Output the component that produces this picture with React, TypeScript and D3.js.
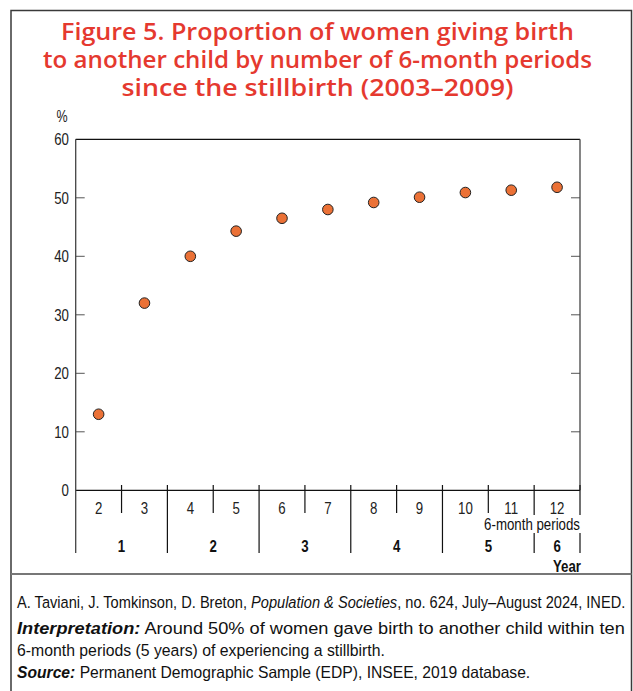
import React, { useLayoutEffect, useRef, useState } from "react";
import * as d3 from "d3";

const periods = [2, 3, 4, 5, 6, 7, 8, 9, 10, 11, 12];
const proportions = [13, 32, 40, 44.3, 46.5, 48, 49.2, 50.1, 50.9, 51.3, 51.8];
const yTicks = [0, 10, 20, 30, 40, 50, 60];
const years = [1, 2, 3, 4, 5, 6];
const titleLines = [
  "Figure 5. Proportion of women giving birth",
  "to another child by number of 6-month periods",
  "since the stillbirth (2003–2009)",
];

const W = 633;
const H = 691;
const left = 75.7;
const right = 580;
const top = 139.3;
const bottom = 490.3;

const sans = "'Liberation Sans', Arial, sans-serif";
const titleFont = "'Open Sans', 'Noto Sans', sans-serif";
const RED = "#e5392f";
const SX = 0.78;

function CText(props: {
  x: number;
  y: number;
  anchor?: "start" | "middle" | "end";
  size: number;
  weight?: number;
  fill?: string;
  sx?: number;
  children: React.ReactNode;
}) {
  const { x, y, anchor = "start", size, weight = 400, fill = "#222", sx = SX, children } = props;
  return (
    <g transform={`translate(${x},${y}) scale(${sx},1)`}>
      <text
        x={0}
        y={0}
        textAnchor={anchor}
        fontFamily={sans}
        fontSize={size}
        fontWeight={weight}
        fill={fill}
      >
        {children}
      </text>
    </g>
  );
}

function FitText(props: {
  x: number;
  y: number;
  width: number;
  size: number;
  anchor?: "start" | "end";
  children: React.ReactNode;
}) {
  const ref = useRef<SVGTextElement>(null);
  const [sx, setSx] = useState(0.82);
  useLayoutEffect(() => {
    if (ref.current) {
      const w = ref.current.getComputedTextLength();
      if (w > 0) setSx(props.width / w);
    }
  }, [props.width]);
  return (
    <g transform={`translate(${props.x},${props.y}) scale(${sx},1)`}>
      <text
        ref={ref}
        x={0}
        y={0}
        textAnchor={props.anchor || "start"}
        fontFamily={sans}
        fontSize={props.size}
        fill="#111"
      >
        {props.children}
      </text>
    </g>
  );
}

export default function App() {
  const x = d3.scaleBand<number>().domain(periods).range([left, right]).padding(0);
  const y = d3.scaleLinear().domain([0, 60]).range([bottom, top]);
  const bw = x.bandwidth();

  const yearOf = (p: number) => Math.floor(p / 2);
  const yearSpan = (yr: number) => {
    const ps = periods.filter((p) => yearOf(p) === yr);
    const x0 = x(ps[0])!;
    const x1 = x(ps[ps.length - 1])! + bw;
    return [x0, x1];
  };

  const shortSeps: number[] = [];
  const longSeps: number[] = [];
  periods.forEach((p, i) => {
    if (i === 0) return;
    const xv = x(p)!;
    if (yearOf(p) !== yearOf(periods[i - 1])) longSeps.push(xv);
    else shortSeps.push(xv);
  });

  const labelY1 = 513.5;
  const yearY = 552;
  const tickTop = 485;

  const titleBaselines = [40, 68, 96];
  const titleWidths = [513, 549, 392];

  return (
    <svg
      width={W}
      height={H}
      style={{ position: "absolute", left: 0, top: 0, background: "#fff" }}
    >
      <rect x={0} y={0} width={W} height={H} fill="#fff" />
      <path
        d={`M11,${H + 2} V10.5 H631.5 V${H + 2}`}
        fill="none"
        stroke="#3a3a3a"
        strokeWidth={1.5}
      />
      <line x1={11} x2={631.5} y1={574} y2={574} stroke="#777" strokeWidth={2} />

      {/* title */}
      {titleLines.map((t, i) => (
        <text
          key={i}
          x={W / 2 + 1}
          y={titleBaselines[i]}
          textAnchor="middle"
          fill={RED}
          fontFamily={titleFont}
          fontWeight={600}
          fontSize={22.5}
          textLength={titleWidths[i]}
          lengthAdjust="spacingAndGlyphs"
        >
          {t}
        </text>
      ))}

      {/* % unit */}
      <CText x={62} y={122} anchor="middle" size={16}>
        %
      </CText>

      {/* y ticks and labels */}
      {yTicks.map((t) => (
        <g key={t}>
          <CText x={69} y={y(t) + 6} anchor="end" size={17}>
            {t}
          </CText>
          {t > 0 && t < 60 && (
            <>
              <line x1={left} x2={left + 9} y1={y(t)} y2={y(t)} stroke="#555" strokeWidth={1} />
              <line x1={right - 9} x2={right} y1={y(t)} y2={y(t)} stroke="#555" strokeWidth={1} />
            </>
          )}
        </g>
      ))}

      {/* axes */}
      <line x1={left} x2={right} y1={top} y2={top} stroke="#111" strokeWidth={1.3} />
      <line x1={left} x2={right} y1={bottom} y2={bottom} stroke="#111" strokeWidth={1.3} />
      <line x1={left} x2={left} y1={top} y2={553} stroke="#444" strokeWidth={1.3} />
      <line x1={right} x2={right} y1={top} y2={bottom} stroke="#444" strokeWidth={1.3} />

      {/* separators */}
      {shortSeps.map((s, i) => (
        <line key={"s" + i} x1={s} x2={s} y1={tickTop} y2={513} stroke="#111" strokeWidth={1.2} />
      ))}
      {[...longSeps, right].map((s, i) => (
        <line key={"l" + i} x1={s} x2={s} y1={tickTop} y2={553} stroke="#111" strokeWidth={1.2} />
      ))}

      {/* period labels */}
      {periods.map((p) => (
        <CText key={p} x={x(p)! + bw / 2} y={labelY1} anchor="middle" size={17}>
          {p}
        </CText>
      ))}

      {/* 6-month periods label with white background */}
      <rect x={483} y={515} width={98} height={18} fill="#fff" />
      <FitText x={580} y={529.5} width={96} size={16} anchor="end">
        6-month periods
      </FitText>

      {/* year labels */}
      {years.map((yr) => {
        const [a, b] = yearSpan(yr);
        return (
          <CText key={yr} x={(a + b) / 2} y={yearY} anchor="middle" size={17} weight={700} fill="#111">
            {yr}
          </CText>
        );
      })}
      <CText x={581} y={571.5} anchor="end" size={17} weight={700} fill="#111">
        Year
      </CText>

      {/* points */}
      {periods.map((p, i) => (
        <circle
          key={p}
          cx={x(p)! + bw / 2}
          cy={y(proportions[i])}
          r={5.3}
          fill="#eb7136"
          stroke="#222"
          strokeWidth={1}
        />
      ))}

      {/* footer */}
      <FitText x={17} y={608} width={608} size={16.5}>
        A. Taviani, J. Tomkinson, D. Breton, <tspan fontStyle="italic">Population &amp; Societies</tspan>, no. 624, July–August 2024, INED.
      </FitText>
      <FitText x={17} y={634} width={608} size={16.5}>
        <tspan fontStyle="italic" fontWeight={700}>Interpretation:</tspan> Around 50% of women gave birth to another child within ten
      </FitText>
      <FitText x={17} y={656} width={368} size={16.5}>
        6-month periods (5 years) of experiencing a stillbirth.
      </FitText>
      <FitText x={17} y={678} width={513} size={16.5}>
        <tspan fontStyle="italic" fontWeight={700}>Source:</tspan> Permanent Demographic Sample (EDP), INSEE, 2019 database.
      </FitText>
    </svg>
  );
}
